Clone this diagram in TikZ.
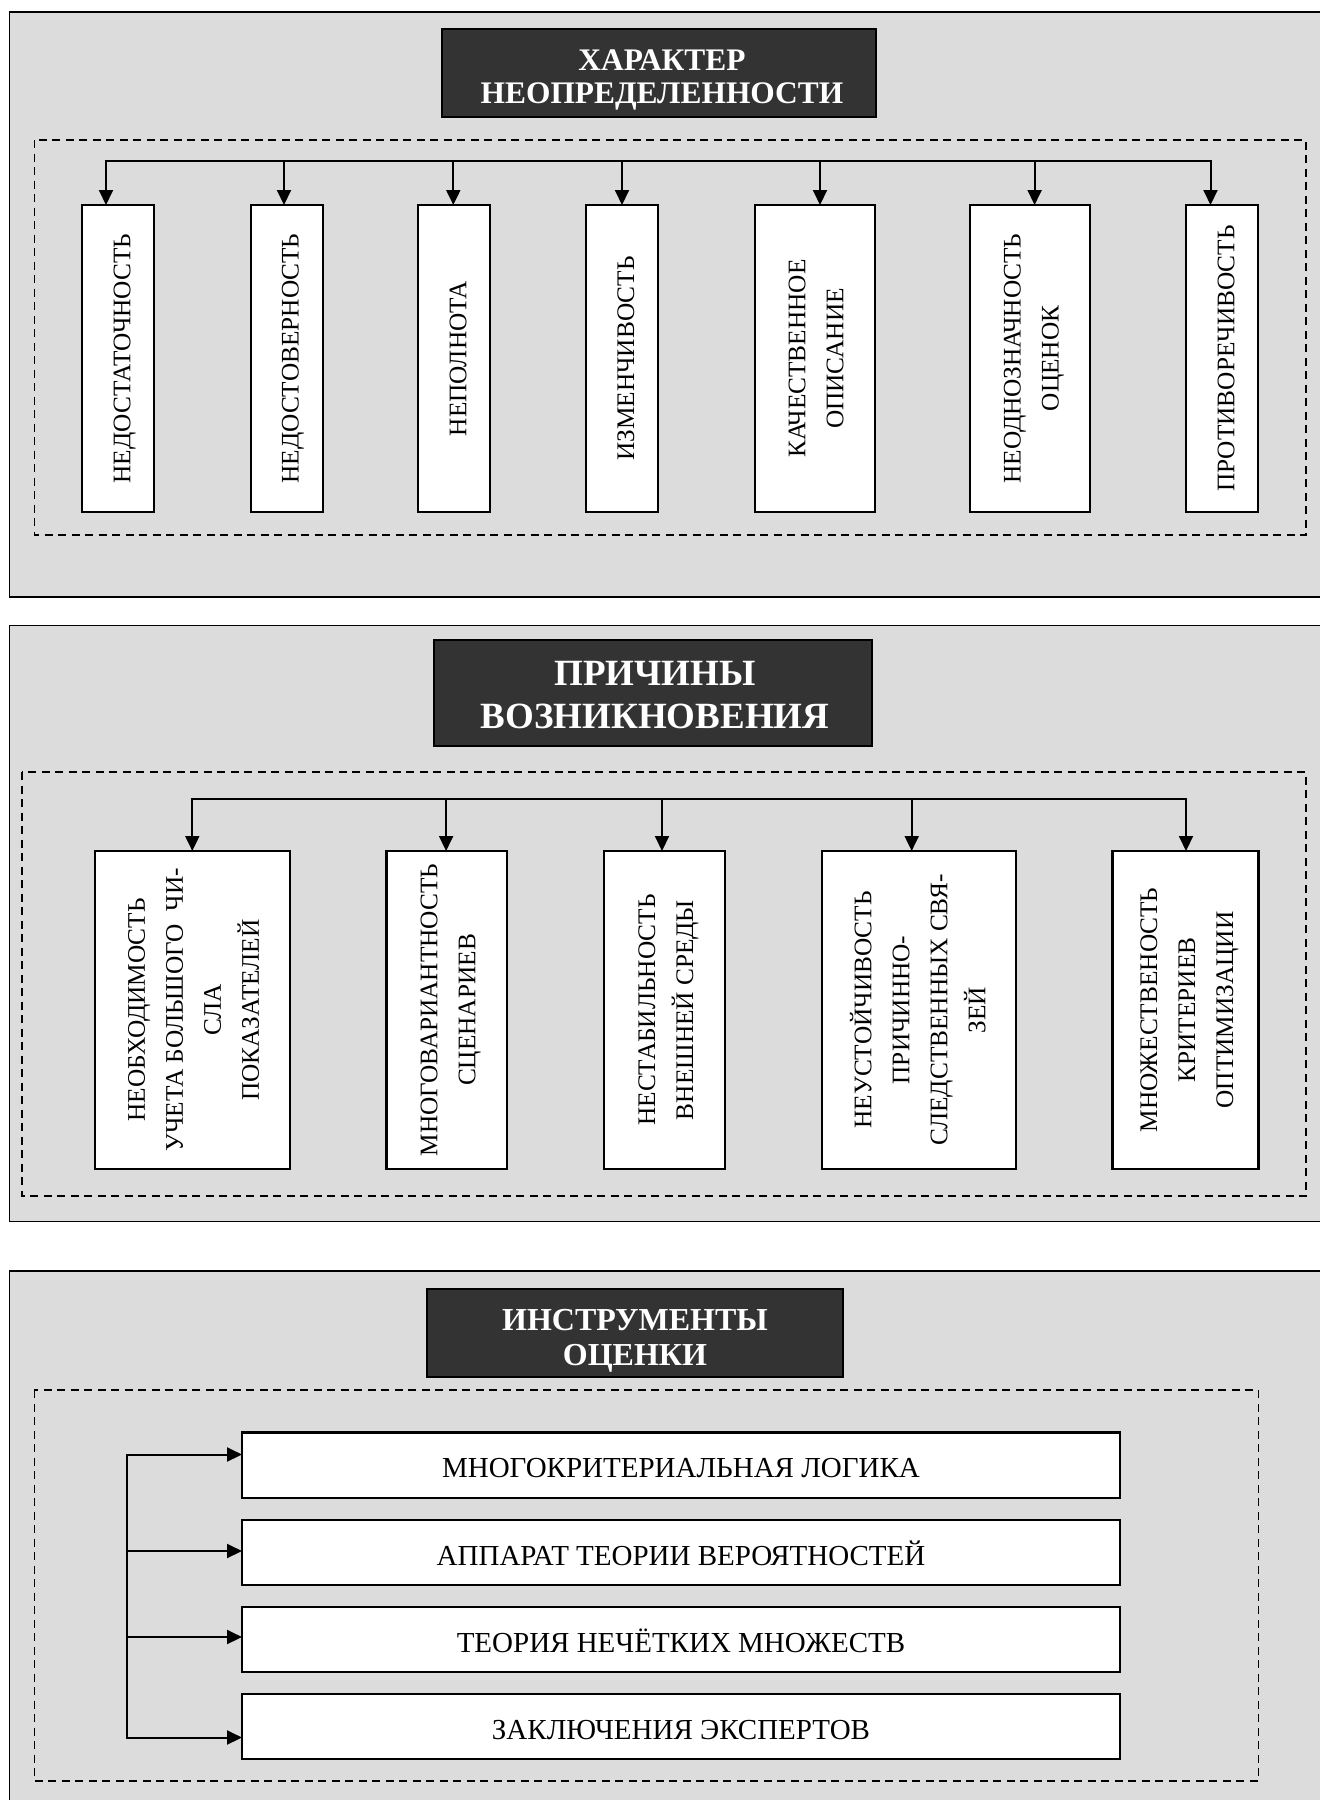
\documentclass[tikz,border=0pt]{standalone}
\usepackage{fontspec}
\setmainfont{Liberation Serif}
\usetikzlibrary{arrows.meta}
\definecolor{panelgray}{HTML}{DCDCDC}
\definecolor{titlegray}{HTML}{333333}
\newcommand\mylines[1]{\begin{tabular}{@{}c@{}}#1\end{tabular}}
\begin{document}
\begin{tikzpicture}[x=1pt,y=-1pt,
  panel/.style={draw=black,line width=1.6pt,fill=panelgray},
  frame/.style={draw=black,line width=1.4pt,dash pattern=on 8pt off 5.5pt},
  titlebox/.style={draw=black,line width=1.8pt,fill=titlegray,inner sep=0pt,outer sep=0pt},
  ttl/.style={text=white,inner sep=0pt},
  wbox/.style={draw=black,line width=2.2pt,fill=white,inner sep=0pt,outer sep=0pt},
  vlab/.style={rotate=90,inner sep=0pt,font=\fontsize{25.3}{38}\selectfont},
  hbox/.style={wbox,minimum width=878pt,minimum height=65.5pt,font=\fontsize{29}{35}\selectfont,text height=25pt,text depth=0pt},
  conn/.style={line width=2pt},
  arr/.style={conn,-{Triangle[length=15pt,width=14pt]}},
  darr/.style={conn,{Triangle[length=15pt,width=14pt]}-{Triangle[length=15pt,width=14pt]}}
]
\clip (0,0) rectangle (1320,1800);
\fill[white] (0,0) rectangle (1320,1800);

% ---------------- panel 1 ----------------
\draw[panel] (9.3,12) rectangle (1330,597);
\node[titlebox,minimum width=433.4pt,minimum height=88pt] (h1) at (659,73.3) {};
\node[ttl,font=\fontsize{31.4}{33.3}\selectfont\bfseries] (h1t) at (662,80) {\mylines{ХАРАКТЕР\\НЕОПРЕДЕЛЕННОСТИ}};
\draw[frame] (34.5,140) rectangle (1306,535);

\node[wbox,minimum width=72pt,minimum height=307pt] (a1) at (118.3,358.5) {};
\node[wbox,minimum width=72pt,minimum height=307pt] (a2) at (286.6,358.5) {};
\node[wbox,minimum width=72pt,minimum height=307pt] (a3) at (454.2,358.5) {};
\node[wbox,minimum width=72pt,minimum height=307pt] (a4) at (622,358.5) {};
\node[wbox,minimum width=120pt,minimum height=307pt] (a5) at (814.7,358.5) {};
\node[wbox,minimum width=120pt,minimum height=307pt] (a6) at (1030,358.5) {};
\node[wbox,minimum width=72pt,minimum height=307pt] (a7) at (1222.3,358.5) {};

\node[vlab] (a1t) at ([xshift=4.5pt]a1.center) {\mylines{НЕДОСТАТОЧНОСТЬ}};
\node[vlab] (a2t) at ([xshift=4.5pt]a2.center) {\mylines{НЕДОСТОВЕРНОСТЬ}};
\node[vlab] (a3t) at ([xshift=4.5pt]a3.center) {\mylines{НЕПОЛНОТА}};
\node[vlab] (a4t) at ([xshift=4.5pt]a4.center) {\mylines{ИЗМЕНЧИВОСТЬ}};
\node[vlab] (a5t) at ([xshift=2pt]a5.center) {\mylines{КАЧЕСТВЕННОЕ\\ОПИСАНИЕ}};
\node[vlab] (a6t) at ([xshift=2pt]a6.center) {\mylines{НЕОДНОЗНАЧНОСТЬ\\ОЦЕНОК}};
\node[vlab] (a7t) at ([xshift=4.5pt]a7.center) {\mylines{ПРОТИВОРЕЧИВОСТЬ}};

\coordinate (k1) at (106,161);
\coordinate (k2) at (284,161);
\coordinate (k3) at (453.3,161);
\coordinate (k4) at (622,161);
\coordinate (k5) at (820,161);
\coordinate (k6) at (1034.6,161);
\coordinate (k7) at (1210.5,161);
\draw[darr] (k1 |- a1.north) -- (k1) -- (k7) -- (k7 |- a7.north);
\foreach \i in {2,...,6} {\draw[arr] (k\i) -- (k\i |- a\i.north);}

% ---------------- panel 2 ----------------
\draw[panel] (9.3,625.5) rectangle (1330,1221.5);
\node[titlebox,minimum width=437.7pt,minimum height=106pt] (h2) at (652.9,693) {};
\node[ttl,font=\fontsize{37}{43.3}\selectfont\bfseries] (h2t) at (655,698) {\mylines{ПРИЧИНЫ\\ВОЗНИКНОВЕНИЯ}};
\draw[frame] (22,772) rectangle (1306,1196);

\node[wbox,minimum width=194.6pt,minimum height=318pt] (b1) at (192.3,1010) {};
\node[wbox,minimum width=120.8pt,minimum height=318pt] (b2) at (446.8,1010) {};
\node[wbox,minimum width=121.2pt,minimum height=318pt] (b3) at (664.6,1010) {};
\node[wbox,minimum width=193.6pt,minimum height=318pt] (b4) at (918.8,1010) {};
\node[wbox,minimum width=146.1pt,minimum height=318pt] (b5) at (1185.5,1010) {};

\node[vlab] (b1t) at ([xshift=2pt]b1.center) {\mylines{НЕОБХОДИМОСТЬ\\УЧЕТА БОЛЬШОГО\ \ ЧИ-\\СЛА\\ПОКАЗАТЕЛЕЙ}};
\node[vlab] (b2t) at ([xshift=2pt]b2.center) {\mylines{МНОГОВАРИАНТНОСТЬ\\СЦЕНАРИЕВ}};
\node[vlab] (b3t) at ([xshift=2pt]b3.center) {\mylines{НЕСТАБИЛЬНОСТЬ\\ВНЕШНЕЙ СРЕДЫ}};
\node[vlab] (b4t) at ([xshift=2pt]b4.center) {\mylines{НЕУСТОЙЧИВОСТЬ\\ПРИЧИННО-\\СЛЕДСТВЕННЫХ СВЯ-\\ЗЕЙ}};
\node[vlab] (b5t) at ([xshift=2pt]b5.center) {\mylines{МНОЖЕСТВЕНОСТЬ\\КРИТЕРИЕВ\\ОПТИМИЗАЦИИ}};

\coordinate (q1) at (192.3,799);
\coordinate (q2) at (446.1,799);
\coordinate (q3) at (662,799);
\coordinate (q4) at (911.7,799);
\coordinate (q5) at (1186,799);
\draw[darr] (q1 |- b1.north) -- (q1) -- (q5) -- (q5 |- b5.north);
\foreach \i in {2,3,4} {\draw[arr] (q\i) -- (q\i |- b\i.north);}

% ---------------- panel 3 ----------------
\draw[panel] (9.3,1271) rectangle (1330,1810);
\node[titlebox,minimum width=416.6pt,minimum height=87.4pt] (h3) at (635,1333) {};
\node[ttl,font=\fontsize{32}{35}\selectfont\bfseries] (h3t) at (635,1340.5) {\mylines{ИНСТРУМЕНТЫ\\ОЦЕНКИ}};
\draw[frame] (34.3,1390) rectangle (1258.5,1781);

\node[hbox] (r1) at (681,1465.2) {МНОГОКРИТЕРИАЛЬНАЯ ЛОГИКА};
\node[hbox] (r2) at (681,1552.5) {АППАРАТ ТЕОРИИ ВЕРОЯТНОСТЕЙ};
\node[hbox] (r3) at (681,1639.5) {ТЕОРИЯ НЕЧЁТКИХ МНОЖЕСТВ};
\node[hbox] (r4) at (681,1726.6) {ЗАКЛЮЧЕНИЯ ЭКСПЕРТОВ};

\coordinate (m1) at (127,1454.5);
\coordinate (m2) at (127,1551);
\coordinate (m3) at (127,1637);
\coordinate (m4) at (127,1737.5);
\draw[darr] (r1.west |- m1) -- (m1) -- (m4) -- (r4.west |- m4);
\draw[arr] (m2) -- (r2.west |- m2);
\draw[arr] (m3) -- (r3.west |- m3);
\end{tikzpicture}
\end{document}
